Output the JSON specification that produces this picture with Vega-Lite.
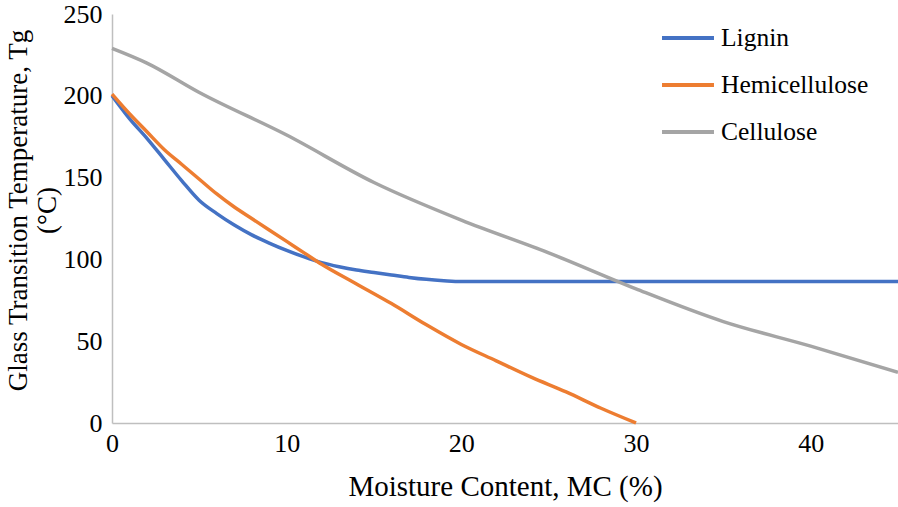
{
  "$schema": "https://vega.github.io/schema/vega-lite/v6.json",
  "autosize": {"type": "none"},
  "padding": {"left": 112, "top": 14, "right": 0, "bottom": 84},
  "width": 786,
  "height": 409,
  "background": "white",
  "config": {
    "font": "Liberation Serif, DejaVu Serif, serif",
    "axis": {"labelFont": "Liberation Serif, DejaVu Serif, serif", "titleFont": "Liberation Serif, DejaVu Serif, serif"},
    "legend": {"labelFont": "Liberation Serif, DejaVu Serif, serif"},
    "view": {"stroke": null}
  },
  "data": {
    "values": [
      {"mc": 0, "tg": 200, "s": "Lignin"},
      {"mc": 1, "tg": 186, "s": "Lignin"},
      {"mc": 2, "tg": 174, "s": "Lignin"},
      {"mc": 3, "tg": 161, "s": "Lignin"},
      {"mc": 4, "tg": 148, "s": "Lignin"},
      {"mc": 5, "tg": 136, "s": "Lignin"},
      {"mc": 6, "tg": 128, "s": "Lignin"},
      {"mc": 7, "tg": 121, "s": "Lignin"},
      {"mc": 8, "tg": 115, "s": "Lignin"},
      {"mc": 9, "tg": 110, "s": "Lignin"},
      {"mc": 10, "tg": 105.5, "s": "Lignin"},
      {"mc": 11, "tg": 101.5, "s": "Lignin"},
      {"mc": 12, "tg": 98, "s": "Lignin"},
      {"mc": 13, "tg": 95.5, "s": "Lignin"},
      {"mc": 14, "tg": 93.5, "s": "Lignin"},
      {"mc": 15, "tg": 92, "s": "Lignin"},
      {"mc": 16, "tg": 90.5, "s": "Lignin"},
      {"mc": 17, "tg": 89, "s": "Lignin"},
      {"mc": 18, "tg": 87.8, "s": "Lignin"},
      {"mc": 19, "tg": 87, "s": "Lignin"},
      {"mc": 20, "tg": 86.5, "s": "Lignin"},
      {"mc": 25, "tg": 86.5, "s": "Lignin"},
      {"mc": 30, "tg": 86.5, "s": "Lignin"},
      {"mc": 35, "tg": 86.5, "s": "Lignin"},
      {"mc": 40, "tg": 86.5, "s": "Lignin"},
      {"mc": 45, "tg": 86.5, "s": "Lignin"},
      {"mc": 0, "tg": 201, "s": "Hemicellulose"},
      {"mc": 1, "tg": 189, "s": "Hemicellulose"},
      {"mc": 2, "tg": 178, "s": "Hemicellulose"},
      {"mc": 3, "tg": 167, "s": "Hemicellulose"},
      {"mc": 4, "tg": 158, "s": "Hemicellulose"},
      {"mc": 5, "tg": 149, "s": "Hemicellulose"},
      {"mc": 6, "tg": 140, "s": "Hemicellulose"},
      {"mc": 7, "tg": 132, "s": "Hemicellulose"},
      {"mc": 8, "tg": 125, "s": "Hemicellulose"},
      {"mc": 9, "tg": 118, "s": "Hemicellulose"},
      {"mc": 10, "tg": 111, "s": "Hemicellulose"},
      {"mc": 11, "tg": 104, "s": "Hemicellulose"},
      {"mc": 12, "tg": 97, "s": "Hemicellulose"},
      {"mc": 14, "tg": 85, "s": "Hemicellulose"},
      {"mc": 16, "tg": 73, "s": "Hemicellulose"},
      {"mc": 18, "tg": 60, "s": "Hemicellulose"},
      {"mc": 20, "tg": 48, "s": "Hemicellulose"},
      {"mc": 22, "tg": 38, "s": "Hemicellulose"},
      {"mc": 24, "tg": 28, "s": "Hemicellulose"},
      {"mc": 26, "tg": 19, "s": "Hemicellulose"},
      {"mc": 28, "tg": 9, "s": "Hemicellulose"},
      {"mc": 30, "tg": 0, "s": "Hemicellulose"},
      {"mc": 0, "tg": 229, "s": "Cellulose"},
      {"mc": 2, "tg": 220, "s": "Cellulose"},
      {"mc": 5, "tg": 202, "s": "Cellulose"},
      {"mc": 10, "tg": 176, "s": "Cellulose"},
      {"mc": 15, "tg": 147, "s": "Cellulose"},
      {"mc": 20, "tg": 124, "s": "Cellulose"},
      {"mc": 25, "tg": 104, "s": "Cellulose"},
      {"mc": 30, "tg": 82, "s": "Cellulose"},
      {"mc": 35, "tg": 62, "s": "Cellulose"},
      {"mc": 40, "tg": 47, "s": "Cellulose"},
      {"mc": 45, "tg": 31, "s": "Cellulose"}
    ]
  },
  "mark": {"type": "line", "strokeWidth": 3.5, "interpolate": "monotone", "clip": false},
  "encoding": {
    "x": {
      "field": "mc", "type": "quantitative",
      "scale": {"domain": [0, 45], "nice": false, "zero": false},
      "axis": {
        "title": "Moisture Content, MC (%)",
        "values": [0, 10, 20, 30, 40],
        "grid": false, "ticks": false, "labelFlush": false,
        "domainColor": "#BFBFBF", "domainWidth": 1.5,
        "labelFontSize": 26, "labelColor": "black", "labelPadding": 7,
        "titleFontSize": 29, "titleFontWeight": "normal", "titleColor": "black", "titlePadding": 16
      }
    },
    "y": {
      "field": "tg", "type": "quantitative",
      "scale": {"domain": [0, 250], "nice": false},
      "axis": {
        "title": ["Glass Transition Temperature, Tg", "(°C)"],
        "values": [0, 50, 100, 150, 200, 250],
        "grid": false, "ticks": false, "labelFlush": false,
        "domainColor": "#BFBFBF", "domainWidth": 1.5,
        "labelFontSize": 26, "labelColor": "black", "labelPadding": 10,
        "titleFontSize": 27, "titleFontWeight": "normal", "titleColor": "black", "titlePadding": 2, "titleLineHeight": 29, "titleY": 196
      }
    },
    "color": {
      "field": "s", "type": "nominal",
      "scale": {"domain": ["Lignin", "Hemicellulose", "Cellulose"], "range": ["#4472C4", "#ED7D31", "#A5A5A5"]},
      "legend": {
        "title": null, "orient": "none", "legendX": 548, "legendY": -4,
        "symbolType": "stroke", "symbolSize": 2700, "symbolStrokeWidth": 4,
        "labelFontSize": 25.5, "labelColor": "black", "labelOffset": 5, "rowPadding": 5
      }
    }
  }
}
